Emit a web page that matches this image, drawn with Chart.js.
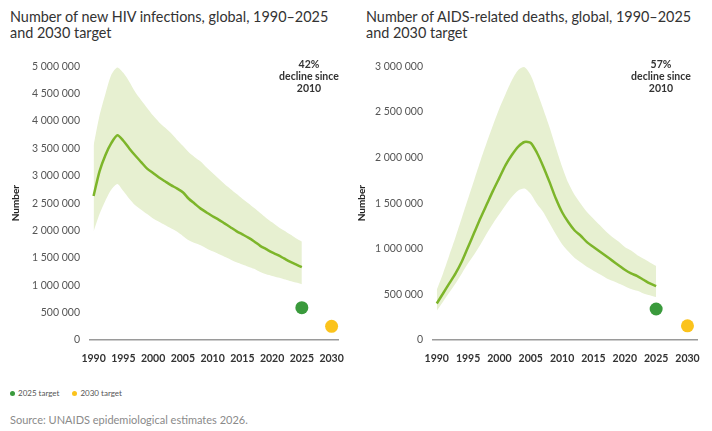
<!DOCTYPE html>
<html>
<head>
<meta charset="utf-8">
<script src="https://cdn.jsdelivr.net/npm/chart.js@4.4.1/dist/chart.umd.min.js"></script>
<style>
  html, body { margin:0; padding:0; background:#fff; }
  body { width:712px; height:431px; position:relative; overflow:hidden; font-family: Lato, "Open Sans", sans-serif; }
  .title { position:absolute; top:9px; font-size:14.4px; line-height:16px; color:#333; white-space:nowrap; }
  .note { position:absolute; top:58px; width:100px; text-align:center; font-size:10.5px; line-height:12px; font-weight:bold; color:#333; }
  .cv { position:absolute; top:50px; width:356px; height:330px; }
  .legend { position:absolute; top:388px; left:10px; font-size:8px; line-height:10px; color:#555; white-space:nowrap; }
  .legend span.dot { display:inline-block; width:5px; height:5px; border-radius:50%; margin-right:3px; vertical-align:0px; }
  .source { position:absolute; top:413px; left:10px; font-size:11px; line-height:14px; color:#8a8a8a; white-space:nowrap; }
</style>
</head>
<body>
<div class="title" style="left:10px">Number of new HIV infections, global, 1990–2025<br>and 2030 target</div>
<div class="title" style="left:366px">Number of AIDS-related deaths, global, 1990–2025<br>and 2030 target</div>
<div class="cv" style="left:0px"><canvas id="c1"></canvas></div>
<div class="cv" style="left:356px"><canvas id="c2"></canvas></div>
<div class="note" style="left:259px">42%<br>decline since<br>2010</div>
<div class="note" style="left:611px">57%<br>decline since<br>2010</div>
<div class="legend"><span class="dot" style="background:#3a9a3c"></span>2025 target<span style="display:inline-block;width:13px"></span><span class="dot" style="background:#fbc31c"></span>2030 target</div>
<div class="source">Source: UNAIDS epidemiological estimates 2026.</div>
<script>
const years = [1990,1991,1992,1993,1994,1995,1996,1997,1998,1999,2000,2001,2002,2003,2004,2005,2006,2007,2008,2009,2010,2011,2012,2013,2014,2015,2016,2017,2018,2019,2020,2021,2022,2023,2024,2025];

// New HIV infections (millions)
const infectionsEstimate = [2.63,3.08,3.38,3.60,3.74,3.64,3.50,3.37,3.25,3.13,3.05,2.97,2.90,2.83,2.77,2.70,2.58,2.49,2.40,2.33,2.26,2.20,2.13,2.06,1.99,1.93,1.87,1.80,1.72,1.66,1.60,1.55,1.49,1.43,1.38,1.33];
const infectionsUpper = [3.55,4.10,4.50,4.85,4.98,4.88,4.72,4.53,4.38,4.24,4.10,3.98,3.88,3.78,3.66,3.55,3.43,3.34,3.26,3.15,3.05,2.95,2.85,2.76,2.67,2.58,2.50,2.41,2.32,2.23,2.15,2.07,2.00,1.93,1.86,1.80];
const infectionsLower = [1.98,2.30,2.55,2.75,2.85,2.72,2.58,2.46,2.38,2.30,2.22,2.16,2.10,2.04,1.98,1.90,1.82,1.77,1.73,1.67,1.62,1.57,1.52,1.47,1.42,1.38,1.34,1.30,1.24,1.20,1.17,1.14,1.11,1.08,1.05,1.02];

// AIDS-related deaths (millions)
const deathsEstimate = [0.40,0.51,0.62,0.73,0.86,1.02,1.18,1.34,1.49,1.64,1.78,1.92,2.03,2.12,2.17,2.16,2.05,1.90,1.73,1.55,1.40,1.29,1.20,1.14,1.07,1.02,0.97,0.92,0.87,0.82,0.77,0.73,0.70,0.66,0.62,0.59];
const deathsUpper = [0.55,0.73,0.93,1.13,1.34,1.55,1.76,1.97,2.17,2.36,2.54,2.70,2.85,2.96,2.99,2.90,2.72,2.53,2.33,2.11,1.90,1.72,1.59,1.49,1.40,1.33,1.26,1.19,1.13,1.08,1.02,0.98,0.93,0.89,0.85,0.81];
const deathsLower = [0.32,0.42,0.52,0.62,0.73,0.84,0.94,1.05,1.17,1.28,1.38,1.48,1.57,1.64,1.66,1.60,1.49,1.40,1.28,1.16,1.05,0.97,0.90,0.85,0.80,0.76,0.72,0.68,0.65,0.62,0.59,0.56,0.54,0.51,0.49,0.47];

const targetYears = [2025, 2030];
const infectionsTargets = [0.59, 0.25];
const deathsTargets = [0.34, 0.155];

const xTicks = [1990,1995,2000,2005,2010,2015,2020,2025,2030];

function pts(xs, ys) { return xs.map((x, i) => ({x: x, y: ys[i] * 1e6})); }
function fmt(v) { return String(Math.round(v)).replace(/\B(?=(\d{3})+(?!\d))/g, ' '); }

function makeChart(id, est, up, lo, targets, yMax, axisW, padRight, titlePad, xMin, xMax) {
  new Chart(document.getElementById(id), {
    type: 'line',
    data: {
      datasets: [
        { data: pts(years, up), borderWidth: 0, pointRadius: 0, backgroundColor: '#e7f0d1', fill: '+1', tension: 0.25, order: 5 },
        { data: pts(years, lo), borderWidth: 0, pointRadius: 0, backgroundColor: '#e7f0d1', fill: false, tension: 0.25, order: 4 },
        { data: pts(years, est), borderColor: '#7db52a', borderWidth: 2.5, pointRadius: 0, fill: false, tension: 0.25, order: 2 },
        { data: [{x: targetYears[0], y: targets[0] * 1e6}], showLine: false, pointRadius: 6.5, pointBackgroundColor: '#3a9a3c', pointBorderWidth: 0, clip: false, order: 1 },
        { data: [{x: targetYears[1], y: targets[1] * 1e6}], showLine: false, pointRadius: 6.5, pointBackgroundColor: '#fbc31c', pointBorderWidth: 0, clip: false, order: 1 }
      ]
    },
    options: {
      responsive: true,
      maintainAspectRatio: false,
      animation: false,
      events: [],
      layout: { padding: { top: 12, right: padRight, left: 0, bottom: 0 } },
      plugins: { legend: { display: false }, tooltip: { enabled: false }, filler: { drawTime: 'beforeDatasetsDraw' } },
      scales: {
        x: {
          type: 'linear', min: xMin, max: xMax,
          afterBuildTicks: (s) => { s.ticks = xTicks.map(v => ({value: v})); },
          afterFit: (s) => { s.height = 40; },
          grid: { display: false, drawTicks: false },
          border: { display: true, color: '#9a9a9a', width: 1.5 },
          ticks: { padding: 12, color: '#333', font: { family: 'Lato', size: 10.5, weight: 'bold' }, callback: (v) => String(v), maxRotation: 0, autoSkip: false }
        },
        y: {
          min: 0, max: yMax,
          afterFit: (s) => { s.width = axisW; },
          grid: { display: false, drawTicks: false },
          border: { display: false },
          ticks: { stepSize: 500000, padding: 10, color: '#555', font: { family: 'Lato', size: 10.5 }, callback: (v) => fmt(v) },
          title: { display: true, text: 'Number', color: '#222', padding: { top: titlePad, bottom: 0 }, font: { family: 'Lato', size: 10, weight: 'bold' } }
        }
      }
    }
  });
}

makeChart('c1', infectionsEstimate, infectionsUpper, infectionsLower, infectionsTargets, 5000000, 90, 8, 10, 1989.4, 2031.2);
makeChart('c2', deathsEstimate, deathsUpper, deathsLower, deathsTargets, 3000000, 77, 9, 0, 1989.4, 2031.6);
</script>
</body>
</html>
